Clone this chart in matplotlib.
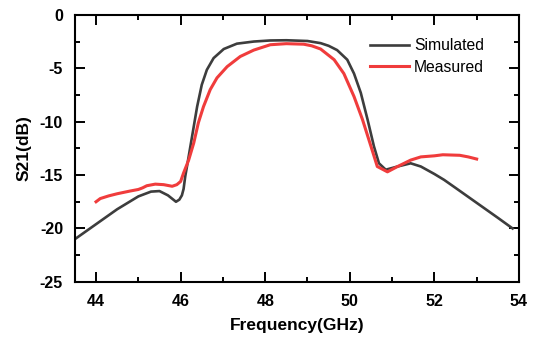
import matplotlib
matplotlib.use("Agg")
import matplotlib.pyplot as plt
from matplotlib.ticker import MultipleLocator

plt.rcParams["font.family"] = ["Liberation Sans", "DejaVu Sans"]
plt.rcParams["axes.unicode_minus"] = False

# Simulated S21
sim_freq = [43.5, 44.0, 44.5, 45.0, 45.3, 45.5, 45.7, 45.89, 45.97, 46.03, 46.07,
            46.11, 46.15, 46.27, 46.39, 46.5, 46.62, 46.78, 47.02, 47.33, 47.73,
            48.12, 48.5, 49.0, 49.31, 49.5, 49.7, 49.94, 50.1, 50.26, 50.42,
            50.57, 50.69, 50.85, 51.13, 51.44, 51.68, 52.0, 52.23, 52.5, 53.0,
            53.5, 53.85]
sim_s21 = [-21.0, -19.6, -18.2, -17.0, -16.55, -16.5, -16.9, -17.5, -17.3, -16.9, -16.3,
           -15.1, -14.2, -11.4, -8.6, -6.55, -5.15, -4.05, -3.2, -2.7, -2.5,
           -2.4, -2.38, -2.45, -2.65, -2.9, -3.3, -4.2, -5.5, -7.3, -9.8,
           -12.3, -13.9, -14.5, -14.2, -13.9, -14.2, -14.9, -15.45, -16.2, -17.6,
           -19.0, -20.0]

# Measured S21
meas_freq = [44.0, 44.1, 44.3, 44.5, 44.8, 45.0, 45.1, 45.2, 45.4, 45.6, 45.8,
             45.91, 46.0, 46.07, 46.19, 46.31, 46.42, 46.54, 46.7, 46.86, 47.1,
             47.41, 47.73, 48.12, 48.5, 48.91, 49.1, 49.31, 49.63, 49.86, 50.1,
             50.3, 50.5, 50.65, 50.89, 51.13, 51.44, 51.68, 52.0, 52.2, 52.6,
             52.8, 53.0]
meas_s21 = [-17.5, -17.2, -16.95, -16.75, -16.5, -16.35, -16.2, -16.0, -15.85, -15.9, -16.05,
            -15.9, -15.6, -14.8, -13.6, -12.0, -10.1, -8.6, -7.0, -5.9, -4.85,
            -3.9, -3.3, -2.8, -2.7, -2.75, -2.9, -3.2, -4.2, -5.5, -7.65,
            -9.8, -12.3, -14.2, -14.7, -14.2, -13.6, -13.3, -13.2, -13.1, -13.15,
            -13.3, -13.5]

x_ticks = [44, 46, 48, 50, 52, 54]
y_ticks = [0, -5, -10, -15, -20, -25]

fig = plt.figure(figsize=(5.35, 3.45), dpi=100)
ax = fig.add_axes([0.140, 0.183, 0.830, 0.774])

ax.plot(sim_freq, sim_s21, color="#3d3d3d", lw=1.9, label="Simulated")
ax.plot(meas_freq, meas_s21, color="#f03c3c", lw=2.2, label="Measured")

ax.set_xlim(43.5, 54)
ax.set_ylim(-25, 0)
ax.set_xticks(x_ticks)
ax.set_yticks(y_ticks)
ax.xaxis.set_minor_locator(MultipleLocator(1))
ax.yaxis.set_minor_locator(MultipleLocator(2.5))
ax.tick_params(which="both", direction="in", top=True, right=True, width=1.4,
               labelsize=11.5)
ax.tick_params(which="major", length=7, pad=8.5)
ax.tick_params(which="minor", length=3.6)
ax.tick_params(axis="x", which="both", labeltop=False)
ax.tick_params(axis="y", which="both", labelright=False)
for lab in ax.get_xticklabels() + ax.get_yticklabels():
    lab.set_fontweight("bold")
for sp in ax.spines.values():
    sp.set_linewidth(1.5)

ax.set_xlabel("Frequency(GHz)", fontsize=12.5, fontweight="bold", labelpad=7)
ax.set_ylabel("S21(dB)", fontsize=12.5, fontweight="bold", labelpad=6)

ax.legend(loc="upper left", bbox_to_anchor=(0.665, 0.912), frameon=False,
          fontsize=11.3, borderpad=0, borderaxespad=0, handlelength=2.45,
          handletextpad=0.35, labelspacing=0.42)

fig.savefig("out.png", dpi=100)
